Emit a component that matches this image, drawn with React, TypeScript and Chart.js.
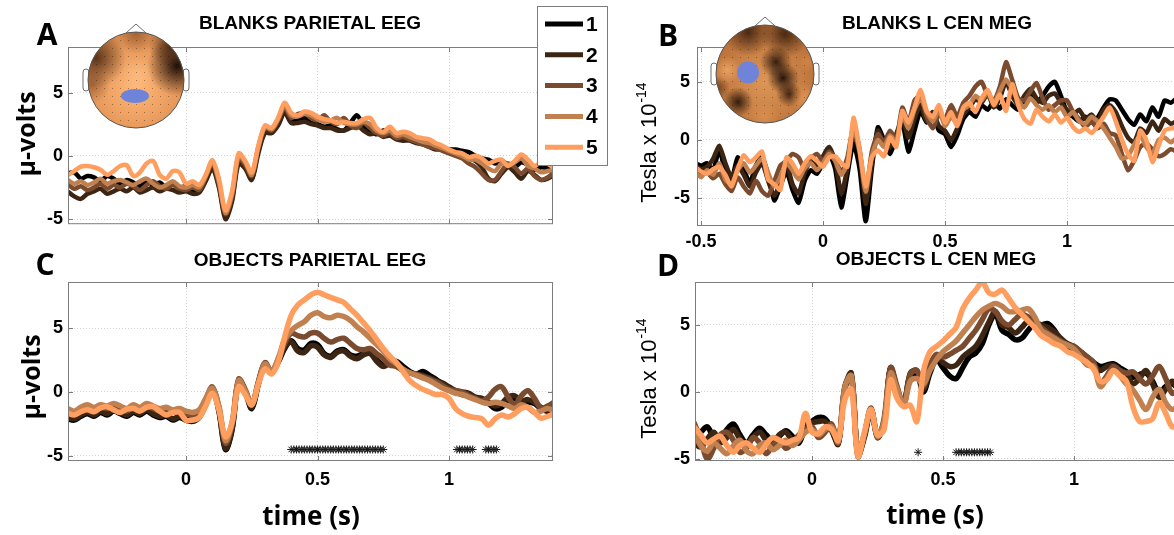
import React, { useEffect, useRef } from "react";
import { Chart, registerables } from "chart.js";

Chart.register(...registerables);

// ------------------------------------------------------------------ data
const SERIES_NAMES = ["1", "2", "3", "4", "5"];
const SERIES_COLORS = ["#000000", "#3d2514", "#7a4b2e", "#c08050", "#ff9e5e"];

const X_TICKS = [0, 0.5, 1];
const X_TICKS_B = [-0.5, 0, 0.5, 1];
const Y_TICKS = [-5, 0, 5];
const SIG_LEVEL = -4.5;

// time base (s) for panels A, C, D
const T_MAIN = [
  -0.45, -0.425, -0.4, -0.375, -0.35, -0.325, -0.3, -0.275, -0.25, -0.225, -0.2, -0.175, -0.15, -0.125, -0.1,
  -0.075, -0.05, -0.025, 0, 0.025, 0.05, 0.075, 0.1, 0.125, 0.15, 0.175, 0.2, 0.225, 0.25, 0.275, 0.3, 0.325,
  0.35, 0.375, 0.4, 0.425, 0.45, 0.475, 0.5, 0.525, 0.55, 0.575, 0.6, 0.625, 0.65, 0.675, 0.7, 0.725, 0.75,
  0.775, 0.8, 0.825, 0.85, 0.875, 0.9, 0.925, 0.95, 0.975, 1, 1.025, 1.05, 1.075, 1.1, 1.125, 1.15, 1.175, 1.2,
  1.225, 1.25, 1.275, 1.3, 1.325, 1.35, 1.375, 1.4,
];
// time base (s) for panel B
const T_B = [
  -0.525, -0.5, -0.475, -0.45, -0.425, -0.4, -0.375, -0.35, -0.325, -0.3, -0.275, -0.25, -0.225, -0.2, -0.175,
  -0.15, -0.125, -0.1, -0.075, -0.05, -0.025, 0, 0.025, 0.05, 0.075, 0.1, 0.125, 0.15, 0.175, 0.2, 0.225, 0.25,
  0.275, 0.3, 0.325, 0.35, 0.375, 0.4, 0.425, 0.45, 0.475, 0.5, 0.525, 0.55, 0.575, 0.6, 0.625, 0.65, 0.675, 0.7,
  0.725, 0.75, 0.775, 0.8, 0.825, 0.85, 0.875, 0.9, 0.925, 0.95, 0.975, 1, 1.025, 1.05, 1.075, 1.1, 1.125, 1.15,
  1.175, 1.2, 1.225, 1.25, 1.275, 1.3, 1.325, 1.35, 1.375, 1.4, 1.425, 1.45,
];

// A: BLANKS PARIETAL EEG (µV)
const A_S1 = [
  -1.4, -1.3, -1.8, -1.6, -1.7, -2.0, -1.6, -1.8, -2.2, -1.9, -2.1, -2.4, -2.0, -2.3, -2.1, -2.5, -2.2, -2.5,
  -2.4, -2.7, -2.6, -1.9, -0.9, -2.3, -4.8, -3.4, -0.3, -0.8, -1.8, 0.4,
  2.0, 1.8, 2.6, 3.6, 2.8, 2.8, 3.0, 2.6, 2.5, 2.3, 2.4, 2.1,
  2.0, 2.6, 3.2, 2.4, 2.0, 1.7, 2.0, 1.9, 1.6, 1.4, 1.3, 1.2,
  1.0, 0.8, 0.7, 0.6, 0.5, 0.5, 0.4, 0.3, 0.0, -0.2, -0.3, -0.6,
  -0.4, -0.7, -0.9, -0.5, -0.7, -1.1, -0.9, -1.0, -1.4,
];
const A_S2 = [
  -2.8, -3.2, -3.4, -3.0, -2.8, -2.6, -3.0, -2.8, -2.6, -2.8, -2.5, -2.9, -2.7, -2.5, -2.8, -2.6, -2.7, -2.9,
  -2.8, -3.0, -2.9, -2.0, -1.0, -2.5, -5.0, -3.6, -0.6, -1.0, -1.9, 0.2,
  1.8, 1.8, 2.4, 3.4, 2.6, 2.6, 2.7, 2.5, 2.4, 2.2, 2.2, 2.0,
  2.0, 2.2, 2.4, 2.0, 1.7, 1.8, 1.5, 1.6, 1.3, 1.2, 1.2, 1.0,
  0.9, 0.7, 0.5, 0.5, 0.3, 0.2, 0.1, -0.2, -0.4, -0.9, -1.8, -2.0,
  -1.4, -0.9, -1.3, -1.8, -1.2, -1.5, -1.9, -1.8, -1.5,
];
const A_S3 = [
  -2.2, -2.6, -2.4, -2.7, -2.5, -2.2, -2.6, -2.3, -2.5, -2.2, -2.4, -2.7, -2.3, -2.0, -2.4, -2.6, -2.3, -2.6,
  -2.7, -2.5, -2.7, -1.7, -0.6, -2.2, -4.6, -3.2, -0.2, -0.7, -1.6, 0.6,
  2.2, 2.0, 2.8, 3.8, 3.0, 3.3, 3.4, 3.0, 2.8, 3.2, 2.7, 2.5,
  3.0, 2.4, 2.2, 2.6, 2.2, 1.8, 1.6, 1.8, 1.4, 1.5, 1.3, 1.1,
  0.9, 0.7, 0.6, 0.4, 0.2, 0.0, -0.2, -0.6, -0.9, -1.4, -1.9, -1.9,
  -1.2, -0.6, -0.9, -1.4, -1.0, -1.6, -1.9, -1.7, -1.3,
];
const A_S4 = [
  -1.9, -2.2, -2.0, -2.3, -2.1, -1.8, -2.2, -2.0, -1.9, -2.1, -2.3, -2.0, -1.8, -2.2, -2.5, -2.3, -2.0, -2.4,
  -2.5, -2.3, -2.5, -1.6, -0.5, -2.0, -4.5, -3.0, 0.0, -0.5, -1.5, 0.7,
  2.3, 2.1, 2.9, 4.0, 3.2, 3.1, 3.3, 3.2, 2.9, 2.7, 2.8, 3.0,
  2.6, 2.5, 2.5, 2.7, 2.5, 2.0, 1.8, 2.0, 1.6, 1.7, 1.5, 1.3,
  1.1, 1.0, 0.8, 0.6, 0.4, 0.2, 0.0, -0.3, -0.3, -0.6, -1.0, -1.2,
  -0.6, -0.7, -0.5, -0.2, -0.8, -1.0, -1.3, -1.2, -1.1,
];
const A_S5 = [
  -1.55, -1.2, -0.85, -0.8, -0.9, -1.1, -1.5, -1.2, -0.8, -0.75, -1.6, -1.3, -0.6, -0.4, -1.5, -1.8, -1.2, -1.3,
  -2.2, -2.0, -2.3, -1.5, -0.35, -1.8, -4.3, -2.8, 0.2, -0.4, -1.3, 0.8,
  2.4, 2.2, 3.0, 4.2, 3.4, 3.2, 3.5, 3.4, 3.1, 2.9, 2.8, 2.6,
  2.7, 2.6, 2.6, 2.9, 3.0, 2.2, 1.9, 2.3, 1.8, 1.9, 1.8, 1.5,
  1.4, 1.3, 1.0, 0.8, 0.5, 0.3, 0.2, -0.1, 0.0, -0.2, -0.6, -0.4,
  -0.3, -0.8, -0.4, 0.1, -0.3, -0.8, -0.5, -0.6, -1.0,
];

// B: BLANKS L CEN MEG (Tesla x 1e-14)
const B_S1 = [
  -2.0, -2.2, -2.0, -2.6, -0.8, -2.8, -3.4, -1.5, -2.5, -3.7,
  -2.2, -1.4, -3.0, -5.2, -4.0, -2.7, -4.3, -5.4, -3.5, -2.6,
  -2.9, -2.0, -1.2, -2.5, -5.8, -3.0, -0.3, -2.5, -7.0, -2.5,
  1.1, 0.0, -1.2, 0.2, 1.5, -1.0, 0.8, 2.5, 1.5, 2.2,
  0.8, 0.5, -0.6, 0.4, 1.8, 2.4, 2.0, 3.0, 2.6, 3.3,
  2.7, 3.5, 3.0, 2.6, 3.4, 4.0, 3.2, 3.8, 4.6, 5.0,
  3.8, 2.4, 2.0, 1.6, 2.0, 1.5, 1.9, 2.8, 3.5, 3.4,
  2.6, 1.8, 1.3, 2.2, 1.6, 2.8, 2.0, 3.4, 3.2, 3.6,
];
const B_S2 = [
  -2.2, -2.5, -2.3, -1.6, -0.5, -2.0, -3.2, -2.2, -3.0, -4.0,
  -2.8, -2.0, -3.5, -4.8, -3.6, -2.0, -3.8, -4.6, -2.8, -1.8,
  -2.2, -1.4, -0.6, -1.8, -4.6, -2.4, 0.6, -1.2, -5.5, -2.0,
  0.8, -0.3, -0.6, 0.5, 1.8, 0.2, 1.8, 3.0, 1.6, 2.4,
  1.2, 0.8, 0.0, 1.0, 2.2, 2.8, 3.5, 3.2, 4.0, 2.8,
  3.6, 5.0, 3.8, 3.0, 3.8, 4.4, 3.6, 3.2, 3.8, 4.0,
  3.2, 2.6, 2.2, 2.6, 1.8, 2.2, 1.6, 2.6, 3.0, 2.4,
  1.2, 0.2, -0.2, 1.0, 0.6, 1.6, 0.8, 1.8, 1.4, 1.6,
];
const B_S3 = [
  -2.5, -3.0, -2.8, -3.3, -2.9, -3.8, -4.4, -3.2, -4.0, -4.6,
  -3.5, -4.4, -4.8, -3.6, -2.2, -1.8, -1.2, -1.5, -2.5, -1.6,
  -1.2, -1.8, -1.0, -1.6, -2.8, -1.5, 1.2, -0.8, -4.5, -1.0,
  0.5, -0.2, 0.8, 0.0, 2.8, 1.5, 3.4, 3.8, 2.0, 1.0,
  2.2, 1.8, 3.0, 2.0, 3.2, 3.8, 4.6, 5.0, 3.8, 3.4,
  4.6, 6.7, 5.2, 3.6, 3.4, 4.2, 4.9, 3.6, 2.6, 3.0,
  3.4, 3.4, 2.4, 1.8, 1.1, 1.6, 1.0, 1.4, 0.6, 0.4,
  -1.2, -2.6, -1.8, -0.6, -0.3, -0.8, -1.4, -1.2, -0.8, -1.0,
];
const B_S4 = [
  -2.8, -3.2, -2.6, -3.0, -2.0, -3.4, -3.8, -2.6, -2.0, -2.8,
  -2.2, -1.6, -2.8, -4.0, -3.2, -2.0, -2.6, -3.4, -2.4, -2.0,
  -2.6, -2.0, -1.2, -1.8, -3.0, -2.0, 1.0, -1.0, -4.4, -1.4,
  0.0, -0.6, 0.4, -0.2, 2.2, 1.0, 2.6, 3.6, 2.4, 1.6,
  2.6, 1.2, 2.0, 1.4, 2.6, 3.0, 3.8, 3.4, 4.2, 3.2,
  4.2, 5.2, 4.4, 3.4, 2.8, 3.6, 3.0, 2.6, 3.0, 2.4,
  2.8, 2.0, 2.4, 1.6, 1.4, 2.0, 1.6, 1.0, 0.2, -0.6,
  -1.6, -1.4, -0.4, 0.4, -0.6, -1.2, 0.0, 0.2, -0.2, 0.2,
];
const B_S5 = [
  -2.3, -2.7, -2.9, -2.5, -2.3, -3.0, -4.0, -2.5, -1.3, -1.9,
  -1.5, -1.0, -3.4, -3.8, -4.3, -1.5, -2.0, -2.9, -2.0, -1.4,
  -1.8, -2.3, -1.5, -1.4, -2.0, -2.3, 1.9, -0.8, -4.0, -1.5,
  -0.9, -1.4, 0.2, -0.6, 2.5, 1.5, 2.8, 4.3, 2.5, 2.0,
  3.0, 1.5, 2.4, 1.2, 2.8, 3.2, 2.4, 3.6, 4.3, 3.0,
  3.9, 2.5, 4.8, 3.0, 1.8, 1.4, 2.6, 2.0, 1.6, 2.2,
  1.5, 1.9, 1.1, 0.7, 1.0, 0.6, 1.2, 2.0, 2.8, 1.6,
  0.0, -1.2, -1.8, 0.8, 0.0, -1.9, -0.5, 0.8, 1.0, 1.0,
];

// C: OBJECTS PARIETAL EEG (µV)
const C_S1 = [
  -2.1, -2.2, -1.9, -1.7, -1.9, -1.6, -1.8, -1.5, -1.7, -1.9, -1.6, -1.8, -1.5, -1.8, -2.0, -1.9, -2.2, -2.0,
  -2.2, -2.3, -2.0, -1.0, 0.2, -1.5, -4.5, -3.0, 0.8, 0.0, -1.3, 0.6,
  2.2, 1.5, 2.3, 3.4, 4.0, 3.4, 3.3, 3.8, 3.7, 3.0, 2.8, 3.2,
  3.3, 2.9, 2.8, 3.0, 3.1, 2.5, 2.1, 2.3, 2.4, 2.0, 1.6, 1.4,
  1.6, 1.3, 1.0, 0.6, 0.3, 0.0, -0.2, -0.3, -0.5, -0.7, -0.9, -1.3,
  -1.2, -0.6, -0.5, -0.9, -0.8, -0.9, -1.3, -1.5, -1.0,
];
const C_S2 = [
  -2.0, -2.1, -1.8, -1.6, -1.8, -1.5, -1.7, -1.4, -1.6, -1.8, -1.5, -1.7, -1.4, -1.7, -1.9, -1.8, -2.1, -1.9,
  -2.1, -2.2, -1.9, -0.9, 0.3, -1.4, -4.4, -2.9, 0.9, 0.1, -1.2, 0.7,
  2.2, 1.6, 2.4, 3.5, 3.9, 3.2, 3.1, 3.6, 3.5, 2.9, 2.7, 3.1,
  3.2, 2.8, 2.6, 2.9, 3.0, 2.4, 2.0, 2.2, 2.0, 1.7, 1.5, 1.4,
  1.3, 1.1, 0.9, 0.7, 0.4, 0.1, 0.0, -0.1, -0.4, -0.5, -0.8, -1.1,
  -0.9, -0.4, -0.3, -0.7, -0.6, -0.8, -1.2, -1.4, -0.9,
];
const C_S3 = [
  -1.5, -1.7, -1.4, -1.2, -1.4, -1.2, -1.3, -1.1, -1.3, -1.5, -1.2, -1.4, -1.1, -1.3, -1.5, -1.4, -1.6, -1.5,
  -1.7, -1.8, -1.6, -0.6, 0.4, -1.2, -4.0, -2.6, 1.0, 0.2, -1.0, 0.8,
  2.3, 1.6, 2.5, 3.8, 4.6, 4.4, 4.3, 4.6, 4.6, 4.2, 3.9, 4.1,
  4.2, 3.8, 3.4, 3.3, 3.4, 3.0, 2.6, 2.1, 2.0, 1.7, 1.5, 1.4,
  1.2, 1.0, 0.8, 0.5, 0.2, 0.1, 0.0, -0.3, -0.5, -0.7, -0.4, 0.2,
  0.4, -0.4, -1.0, -0.3, 0.1, -0.5, -1.3, -1.1, -0.8,
];
const C_S4 = [
  -1.3, -1.5, -1.2, -1.0, -1.2, -1.0, -1.1, -0.9, -1.1, -1.3, -1.0, -1.2, -0.9, -1.1, -1.3, -1.2, -1.4, -1.3,
  -1.5, -1.6, -1.4, -0.5, 0.3, -1.1, -3.8, -2.4, 0.9, 0.1, -1.0, 0.7,
  2.2, 1.6, 2.6, 4.1, 4.8, 5.2, 5.5, 6.0, 6.2, 5.9, 5.8, 6.0,
  5.9, 5.6, 5.1, 4.7, 4.2, 3.7, 3.2, 2.6, 2.2, 1.8, 1.5, 1.3,
  1.1, 0.9, 0.6, 0.3, 0.1, -0.1, -0.2, -0.4, -0.6, -0.8, -0.9, -0.8,
  -0.9, -1.1, -1.3, -1.0, -1.2, -1.6, -1.5, -1.3, -1.5,
];
const C_S5 = [
  -1.65, -1.8, -1.55, -1.4, -1.55, -1.25, -1.15, -1.4, -1.6, -1.35, -1.3, -1.5, -1.2, -1.15, -1.5, -1.8, -1.6, -1.6,
  -2.2, -2.2, -2.0, -1.1, -0.1, -1.4, -3.5, -2.4, 0.4, -0.2, -1.0, 0.6,
  1.8, 1.4, 2.3, 4.3, 6.0, 6.8, 7.2, 7.6, 7.8, 7.6, 7.4, 7.2,
  7.0, 6.5, 6.0, 5.4, 4.8, 4.1, 3.4, 2.8, 2.3, 1.6, 0.9, 0.5,
  0.2, 0.0, -0.2, -0.2, -0.5, -1.3, -1.7, -1.9, -2.0, -2.1, -2.6, -2.1,
  -1.8, -1.95, -1.7, -1.3, -1.2, -1.6, -2.05, -1.9, -1.7,
];

// D: OBJECTS L CEN MEG (Tesla x 1e-14)
const D_S1 = [
  -3.3, -3.0, -2.6, -3.4, -3.6, -2.8, -2.4, -3.2, -3.8, -3.2, -2.7, -3.2, -3.6, -3.3, -2.9, -3.3, -3.8, -2.6,
  -2.2, -1.9, -2.0, -2.8, -3.8, 0.2, 1.2, -4.5, -3.2, -1.3, -3.2, -2.4,
  1.8, 0.0, -0.8, 1.2, 1.4, 0.0, 1.4, 2.4, 1.8, 1.2, 1.0, 1.8,
  2.6, 2.9, 3.6, 5.0, 5.8, 4.6, 4.3, 3.9, 4.0, 4.6, 5.1, 5.0,
  5.1, 4.6, 3.8, 3.4, 3.2, 2.8, 2.6, 2.2, 1.9, 2.0, 2.1, 1.8,
  1.5, 1.1, 1.3, 1.4, 0.8, -0.1, 0.4, 0.6, 0.2,
];
const D_S2 = [
  -3.8, -4.1, -3.5, -3.0, -3.8, -3.4, -2.8, -3.5, -4.0, -3.4, -3.0, -3.6, -3.9, -3.2, -3.0, -3.6, -3.4, -2.5,
  -2.3, -2.2, -2.2, -2.9, -3.9, 0.3, 1.4, -4.7, -3.4, -1.4, -3.4, -2.2,
  1.8, 0.2, -0.9, 1.4, 1.6, 0.2, 1.6, 2.6, 2.2, 1.9, 2.0, 2.6,
  3.0, 3.4, 4.2, 5.2, 6.0, 5.0, 4.8, 4.4, 4.8, 5.3, 5.2, 5.0,
  4.8, 4.5, 4.0, 3.6, 3.4, 3.0, 2.6, 2.0, 1.6, 1.9, 2.0, 1.6,
  1.4, 0.6, 1.0, 1.6, 0.6, -0.4, 0.2, 0.8, 0.0,
];
const D_S3 = [
  -2.3, -3.5, -5.0, -4.2, -3.2, -3.0, -3.6, -4.5, -4.2, -3.4, -3.8, -4.6, -4.0, -3.6, -4.2, -3.8, -3.2, -2.8,
  -2.6, -3.4, -3.0, -2.4, -3.8, 0.4, 1.2, -4.8, -3.2, -1.2, -3.4, -2.0,
  1.8, 0.4, -1.0, 1.3, 1.6, 0.4, 2.0, 2.8, 2.6, 2.8, 3.1, 3.4,
  4.0, 4.6, 5.4, 6.2, 6.0, 5.3, 5.0, 5.4, 5.8, 5.6, 5.2, 4.8,
  4.4, 4.1, 3.8, 3.5, 3.4, 3.0, 2.6, 2.2, 0.6, 1.2, 1.9, 1.6,
  1.4, 1.5, 1.0, 0.6, 1.2, 1.9, 1.0, -0.1, 0.2,
];
const D_S4 = [
  -3.0, -4.0, -4.4, -3.8, -4.2, -4.6, -4.0, -3.6, -4.4, -4.6, -4.0, -3.8, -4.3, -4.0, -3.6, -4.0, -3.6, -3.0,
  -2.8, -3.2, -2.8, -2.6, -3.7, 0.3, 1.2, -4.7, -3.1, -1.3, -3.3, -2.2,
  1.4, 0.2, -1.0, 0.8, 1.0, 0.6, 1.6, 2.4, 3.0, 3.4, 3.8, 4.4,
  5.0, 5.6, 6.1, 6.4, 6.6, 6.4, 6.0, 6.0, 6.1, 6.2, 5.6, 4.6,
  4.3, 4.0, 3.7, 3.5, 3.2, 2.6, 2.0, 1.9, 0.4, 1.0, 1.6, 1.2,
  0.6, 0.15, -0.6, -1.3, -0.4, 0.2, -0.8, -1.3, -1.0,
];
const D_S5 = [
  -2.6, -3.2, -3.8, -3.5, -3.3, -4.0, -4.5, -4.0, -3.8, -4.2, -4.5, -3.9, -3.4, -3.6, -3.8, -3.6, -3.4, -1.6,
  -3.0, -3.1, -2.6, -2.8, -3.6, -0.6, 0.2, -4.8, -3.0, -1.3, -3.2, -2.8,
  0.9, -0.5, -1.1, -1.0, -2.2, 1.5, 3.0, 3.4, 3.8, 4.3, 4.8, 6.2,
  7.0, 7.6, 8.2, 7.4, 7.3, 7.6, 7.0, 6.3, 5.8, 5.3, 4.8, 4.2,
  3.9, 3.6, 3.4, 3.0, 2.8, 2.5, 2.2, 1.7, 0.8, 0.9, 1.6, 1.2,
  0.8, -1.1, -2.2, -2.2, -2.0, -0.8, -1.6, -2.6, -2.4,
];

// significance markers (s)
const C_SIG_T = [
  0.4, 0.41, 0.42, 0.43, 0.44, 0.45, 0.46, 0.47, 0.48, 0.49, 0.5, 0.51, 0.52, 0.53, 0.54, 0.55, 0.56, 0.57,
  0.58, 0.59, 0.6, 0.61, 0.62, 0.63, 0.64, 0.65, 0.66, 0.67, 0.68, 0.69, 0.7, 0.71, 0.72, 0.73, 0.74, 0.75,
  1.03, 1.04, 1.05, 1.06, 1.07, 1.08, 1.09, 1.14, 1.15, 1.16, 1.17, 1.18,
];
const D_SIG_T = [0.405, 0.55, 0.56, 0.57, 0.58, 0.59, 0.6, 0.61, 0.62, 0.63, 0.64, 0.65, 0.66, 0.67, 0.68];

// ------------------------------------------------------------------ styling
const TICK_FONT = { family: "'Liberation Sans', Arial, Helvetica, sans-serif", size: 18, weight: "bold" as const };
const TITLE_FONT = "bold 19px 'Liberation Sans', Arial, sans-serif";
const LETTER_FONT = "bold 30px 'Open Sans', sans-serif";
const EEG_LABEL_FONT = "bold 25px 'Open Sans', sans-serif";
const XLABEL_FONT = "bold 26px 'Open Sans', sans-serif";
const TESLA_FONT = "22px 'Liberation Sans', Arial, sans-serif";
const TESLA_SUP_FONT = "14px 'Liberation Sans', Arial, sans-serif";
const LEGEND_FONT = "bold 21px 'Liberation Sans', Arial, sans-serif";
const FRAME_COLOR = "#7d7d7d";
const GRID_COLOR = "#d4d4d4";

type Blob = [number, number, number, string];
type Head = {
  cx: number; cy: number; r: number; base: [string, string]; blobs: Blob[];
  marker: { x: number; y: number; rx: number; ry: number };
};

const HEAD_A: Head = {
  cx: 136, cy: 80, r: 48, base: ["#ffb878", "#df8e50"],
  blobs: [
    [177, 66, 30, "rgba(20,8,2,0.95)"],
    [170, 45, 22, "rgba(40,18,6,0.7)"],
    [96, 58, 30, "rgba(55,27,10,0.8)"],
    [92, 85, 18, "rgba(90,45,18,0.45)"],
    [136, 34, 20, "rgba(90,45,18,0.45)"],
    [138, 74, 16, "rgba(255,196,140,0.5)"],
  ],
  marker: { x: 135, y: 96, rx: 14, ry: 7 },
};
const HEAD_B: Head = {
  cx: 765, cy: 74, r: 49, base: ["#dd9658", "#b87038"],
  blobs: [
    [748, 32, 24, "rgba(35,17,6,0.75)"],
    [785, 34, 24, "rgba(35,17,6,0.75)"],
    [776, 62, 16, "rgba(25,11,4,0.85)"],
    [783, 78, 16, "rgba(18,8,3,0.9)"],
    [789, 94, 13, "rgba(30,14,5,0.8)"],
    [738, 102, 15, "rgba(25,11,4,0.85)"],
    [718, 88, 12, "rgba(60,28,10,0.55)"],
    [727, 70, 14, "rgba(255,185,115,0.6)"],
    [805, 98, 15, "rgba(255,170,100,0.5)"],
    [764, 117, 15, "rgba(240,160,90,0.45)"],
    [808, 62, 10, "rgba(240,150,85,0.4)"],
  ],
  marker: { x: 748, y: 72.5, rx: 11, ry: 11 },
};

type Panel = {
  id: string;
  left: number; top: number; width: number; height: number;
  padTop: number; padRight: number; yAxisW: number; xAxisH: number;
  xMin: number; xMax: number; yMin: number; yMax: number;
  xTicks: number[]; showXLabels: boolean; xTickPad: number; yTickPad: number;
  times: number[]; series: number[][]; lineWidth: number; tension: number;
  sig?: number[];
  title: string; titleX: number; titleY: number;
  letter: string; letterX: number; letterY: number;
  ylabel: string; ySup?: string; ylabelX: number; ylabelY: number;
  xlabel?: string; xlabelX?: number; xlabelY?: number;
  head?: Head; legend?: boolean;
};

const PANELS: Panel[] = [
  {
    id: "A", left: 0, top: 0, width: 620, height: 240, padTop: 47, padRight: 67, yAxisW: 68, xAxisH: 14,
    xMin: -0.4487, xMax: 1.3954, yMin: -5.4, yMax: 8.6, xTicks: X_TICKS, showXLabels: false, xTickPad: 8, yTickPad: 5,
    times: T_MAIN, series: [A_S1, A_S2, A_S3, A_S4, A_S5], lineWidth: 4.5, tension: 0.3,
    title: "BLANKS PARIETAL EEG", titleX: 310, titleY: 24, letter: "A", letterX: 47, letterY: 36,
    ylabel: "μ-volts", ylabelX: 28, ylabelY: 134, head: HEAD_A, legend: true,
  },
  {
    id: "B", left: 620, top: 0, width: 564, height: 252, padTop: 47, padRight: 0, yAxisW: 77, xAxisH: 26,
    xMin: -0.5164, xMax: 1.4795, yMin: -7.4, yMax: 8.0, xTicks: X_TICKS_B, showXLabels: true, xTickPad: 5, yTickPad: 7,
    times: T_B, series: [B_S1, B_S2, B_S3, B_S4, B_S5], lineWidth: 4.5, tension: 0.2,
    title: "BLANKS L CEN MEG", titleX: 937, titleY: 24, letter: "B", letterX: 668, letterY: 37,
    ylabel: "Tesla x 10", ySup: "-14", ylabelX: 650, ylabelY: 143, head: HEAD_B,
  },
  {
    id: "C", left: 0, top: 240, width: 620, height: 295, padTop: 42, padRight: 67, yAxisW: 68, xAxisH: 74,
    xMin: -0.4487, xMax: 1.3954, yMin: -5.4, yMax: 8.6, xTicks: X_TICKS, showXLabels: true, xTickPad: 8, yTickPad: 5,
    times: T_MAIN, series: [C_S1, C_S2, C_S3, C_S4, C_S5], lineWidth: 5.5, tension: 0.35, sig: C_SIG_T,
    title: "OBJECTS PARIETAL EEG", titleX: 310, titleY: 261, letter: "C", letterX: 45, letterY: 266,
    ylabel: "μ-volts", ylabelX: 33, ylabelY: 377, xlabel: "time (s)", xlabelX: 311, xlabelY: 518,
  },
  {
    id: "D", left: 620, top: 240, width: 564, height: 295, padTop: 42, padRight: 0, yAxisW: 75, xAxisH: 74,
    xMin: -0.4466, xMax: 1.4198, yMin: -5.15, yMax: 8.2, xTicks: X_TICKS, showXLabels: true, xTickPad: 8, yTickPad: 5,
    times: T_MAIN, series: [D_S1, D_S2, D_S3, D_S4, D_S5], lineWidth: 5.5, tension: 0.35, sig: D_SIG_T,
    title: "OBJECTS L CEN MEG", titleX: 936, titleY: 260, letter: "D", letterX: 668, letterY: 267,
    ylabel: "Tesla x 10", ySup: "-14", ylabelX: 650, ylabelY: 379, xlabel: "time (s)", xlabelX: 935, xlabelY: 517,
  },
];

// ------------------------------------------------------------------ drawing helpers
function transparentOf(col: string) {
  return col.replace(/[\d.]+\)$/, "0)");
}

function drawHead(ctx: CanvasRenderingContext2D, h: Head) {
  const { cx, cy, r } = h;
  ctx.save();
  ctx.lineWidth = 1;
  ctx.strokeStyle = "#6e6e6e";
  ctx.beginPath();
  ctx.moveTo(cx - 10, cy - r + 1);
  ctx.lineTo(cx, cy - r - 8);
  ctx.lineTo(cx + 10, cy - r + 1);
  ctx.stroke();
  for (const s of [-1, 1]) {
    const ex = s < 0 ? cx - r - 5 : cx + r - 1;
    ctx.beginPath();
    (ctx as any).roundRect(ex, cy - 11, 6, 22, 3);
    ctx.fillStyle = "#ffffff";
    ctx.fill();
    ctx.stroke();
  }
  ctx.save();
  ctx.beginPath();
  ctx.arc(cx, cy, r, 0, Math.PI * 2);
  ctx.clip();
  const g = ctx.createRadialGradient(cx, cy + 8, 0, cx, cy + 8, r + 8);
  g.addColorStop(0, h.base[0]);
  g.addColorStop(1, h.base[1]);
  ctx.fillStyle = g;
  ctx.fillRect(cx - r, cy - r, 2 * r, 2 * r);
  for (const [bx, by, br, col] of h.blobs) {
    const rg = ctx.createRadialGradient(bx, by, 0, bx, by, br);
    rg.addColorStop(0, col);
    rg.addColorStop(1, transparentOf(col));
    ctx.fillStyle = rg;
    ctx.fillRect(bx - br, by - br, 2 * br, 2 * br);
  }
  ctx.fillStyle = "rgba(0,0,0,0.35)";
  for (let dx = -r; dx <= r; dx += 8) {
    for (let dy = -r; dy <= r; dy += 8) {
      if (dx * dx + dy * dy < (r - 3) * (r - 3)) ctx.fillRect(cx + dx, cy + dy, 1, 1);
    }
  }
  ctx.restore();
  ctx.beginPath();
  ctx.arc(cx, cy, r, 0, Math.PI * 2);
  ctx.strokeStyle = "#555555";
  ctx.stroke();
  ctx.beginPath();
  ctx.ellipse(h.marker.x, h.marker.y, h.marker.rx, h.marker.ry, 0, 0, Math.PI * 2);
  ctx.fillStyle = "#6f84d9";
  ctx.fill();
  ctx.restore();
}

function drawLegend(ctx: CanvasRenderingContext2D, chart: any) {
  const x = 537, y = 6, w = 70, h = 159;
  ctx.save();
  ctx.fillStyle = "#ffffff";
  ctx.fillRect(x, y, w, h);
  ctx.strokeStyle = FRAME_COLOR;
  ctx.lineWidth = 1;
  ctx.strokeRect(x + 0.5, y + 0.5, w, h);
  const ds = chart.data.datasets.filter((d: any) => SERIES_NAMES.includes(d.label));
  ds.forEach((d: any, i: number) => {
    const ry = 24 + i * 30.8;
    ctx.strokeStyle = d.borderColor;
    ctx.lineWidth = 5;
    ctx.beginPath();
    ctx.moveTo(545, ry);
    ctx.lineTo(583, ry);
    ctx.stroke();
    ctx.fillStyle = "#000";
    ctx.font = LEGEND_FONT;
    ctx.textAlign = "left";
    ctx.textBaseline = "middle";
    ctx.fillText(d.label, 586, ry + 1);
  });
  ctx.restore();
}

function drawFrame(chart: any) {
  const ctx: CanvasRenderingContext2D = chart.ctx;
  const { left, top, right, bottom } = chart.chartArea;
  ctx.save();
  ctx.strokeStyle = FRAME_COLOR;
  ctx.lineWidth = 1;
  ctx.strokeRect(left + 0.5, top + 0.5, right - left - 1, bottom - top - 1);
  const xs = chart.scales.x;
  const ys = chart.scales.y;
  ctx.beginPath();
  xs.ticks.forEach((t: any) => {
    const px = Math.round(xs.getPixelForValue(t.value)) + 0.5;
    ctx.moveTo(px, bottom);
    ctx.lineTo(px, bottom - 5);
    ctx.moveTo(px, top);
    ctx.lineTo(px, top + 5);
  });
  ys.ticks.forEach((t: any) => {
    const py = Math.round(ys.getPixelForValue(t.value)) + 0.5;
    ctx.moveTo(left, py);
    ctx.lineTo(left + 5, py);
    ctx.moveTo(right, py);
    ctx.lineTo(right - 5, py);
  });
  ctx.stroke();
  ctx.restore();
}

function decorPlugin(p: Panel) {
  return {
    id: "decor" + p.id,
    afterDatasetsDraw(chart: any) {
      drawFrame(chart);
    },
    afterDraw(chart: any) {
      const ctx: CanvasRenderingContext2D = chart.ctx;
      ctx.save();
      ctx.translate(-p.left, -p.top);
      if (p.head) drawHead(ctx, p.head);
      if (p.legend) drawLegend(ctx, chart);
      ctx.fillStyle = "#000";
      ctx.textAlign = "center";
      ctx.textBaseline = "middle";
      ctx.font = TITLE_FONT;
      ctx.fillText(p.title, p.titleX, p.titleY);
      ctx.font = LETTER_FONT;
      ctx.fillText(p.letter, p.letterX, p.letterY);
      if (p.xlabel) {
        ctx.font = XLABEL_FONT;
        ctx.fillText(p.xlabel, p.xlabelX as number, p.xlabelY as number);
      }
      ctx.save();
      ctx.translate(p.ylabelX, p.ylabelY);
      ctx.rotate(-Math.PI / 2);
      if (p.ySup) {
        ctx.font = TESLA_FONT;
        const w1 = ctx.measureText(p.ylabel).width;
        ctx.font = TESLA_SUP_FONT;
        const w2 = ctx.measureText(p.ySup).width;
        const start = -(w1 + w2) / 2;
        ctx.textAlign = "left";
        ctx.font = TESLA_FONT;
        ctx.fillText(p.ylabel, start, 0);
        ctx.font = TESLA_SUP_FONT;
        ctx.fillText(p.ySup, start + w1 + 1, -8);
      } else {
        ctx.font = EEG_LABEL_FONT;
        ctx.fillText(p.ylabel, 0, 0);
      }
      ctx.restore();
      ctx.restore();
    },
  };
}

function buildConfig(p: Panel): any {
  const datasets: any[] = p.series.map((vals, i) => ({
    label: SERIES_NAMES[i],
    data: p.times.map((t, k) => ({ x: t, y: vals[k] })),
    borderColor: SERIES_COLORS[i],
    backgroundColor: SERIES_COLORS[i],
    borderWidth: p.lineWidth,
    tension: p.tension,
    pointRadius: 0,
    fill: false,
    order: SERIES_NAMES.length - 1 - i,
    clip: 0,
    borderJoinStyle: "round",
    borderCapStyle: "round",
  }));
  if (p.sig) {
    datasets.push({
      label: "significant",
      data: p.sig.map((t) => ({ x: t, y: SIG_LEVEL })),
      showLine: false,
      pointStyle: "star",
      pointRadius: 4,
      pointBorderColor: "#1a1a1a",
      pointBackgroundColor: "#1a1a1a",
      pointBorderWidth: 1,
      order: -1,
      clip: 0,
    });
  }
  const gridCommon = { color: GRID_COLOR, lineWidth: 1, drawTicks: false };
  const borderCommon = { display: false, dash: [1, 2] };
  return {
    type: "line",
    data: { datasets },
    options: {
      animation: false,
      responsive: false,
      maintainAspectRatio: false,
      events: [],
      layout: { padding: { top: p.padTop, right: p.padRight, left: 0, bottom: 0 }, autoPadding: false },
      plugins: { legend: { display: false }, tooltip: { enabled: false }, title: { display: false } },
      scales: {
        x: {
          type: "linear",
          min: p.xMin,
          max: p.xMax,
          afterBuildTicks: (s: any) => {
            s.ticks = p.xTicks.map((v) => ({ value: v }));
          },
          afterFit: (s: any) => {
            s.height = p.xAxisH;
          },
          grid: gridCommon,
          border: borderCommon,
          ticks: {
            display: p.showXLabels,
            padding: p.xTickPad,
            font: TICK_FONT,
            color: "#000",
            maxRotation: 0,
            autoSkip: false,
            callback: (v: number) => String(v),
          },
        },
        y: {
          type: "linear",
          min: p.yMin,
          max: p.yMax,
          afterBuildTicks: (s: any) => {
            s.ticks = Y_TICKS.map((v) => ({ value: v }));
          },
          afterFit: (s: any) => {
            s.width = p.yAxisW;
          },
          grid: gridCommon,
          border: borderCommon,
          ticks: {
            padding: p.yTickPad,
            font: TICK_FONT,
            color: "#000",
            autoSkip: false,
            callback: (v: number) => String(v),
          },
        },
      },
    },
    plugins: [decorPlugin(p)],
  };
}

export default function App() {
  const refs = useRef<(HTMLCanvasElement | null)[]>([]);
  useEffect(() => {
    const charts = PANELS.map((p, i) => new Chart(refs.current[i] as HTMLCanvasElement, buildConfig(p)));
    return () => charts.forEach((c) => c.destroy());
  }, []);
  return (
    <div
      style={{
        position: "fixed", left: 0, top: 0, width: 1174, height: 535,
        overflow: "hidden", background: "#ffffff",
      }}
    >
      {PANELS.map((p, i) => (
        <canvas
          key={p.id}
          ref={(el) => {
            refs.current[i] = el;
          }}
          width={p.width}
          height={p.height}
          style={{ position: "absolute", left: p.left, top: p.top, width: p.width, height: p.height }}
        />
      ))}
    </div>
  );
}
